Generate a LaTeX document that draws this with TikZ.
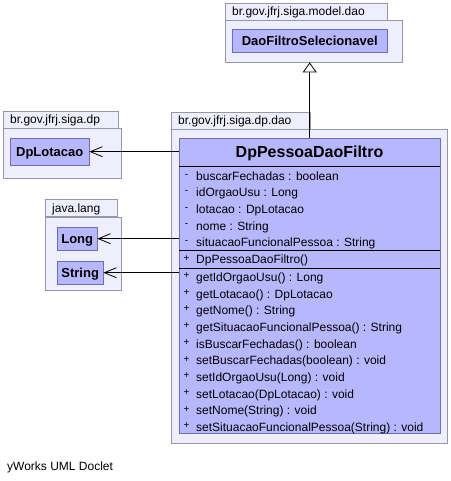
\documentclass[tikz,border=0pt]{standalone}
\usepackage{fontspec}
\setmainfont{Liberation Sans}
\usetikzlibrary{arrows.meta}

\definecolor{pkgfill}{RGB}{238,238,252}
\definecolor{pkgline}{RGB}{150,150,165}
\definecolor{clsfill}{RGB}{183,183,253}
\definecolor{clsline}{RGB}{110,110,180}

\begin{document}
\begin{tikzpicture}[x=1pt,y=-1pt,
	pkgbody/.style={draw=pkgline, fill=pkgfill, anchor=north west, inner sep=0pt},
	pkgtab/.style={draw=pkgline, fill=pkgfill, anchor=north west, inner xsep=7pt, inner ysep=0pt,
		minimum height=17pt, align=left, text height=8.6pt, text depth=0pt, font=\fontsize{12}{14}\selectfont},
	smallclass/.style={draw=clsline, fill=clsfill, anchor=north west, inner sep=0pt,
		text height=9.3pt, text depth=0pt, font=\fontsize{13}{15}\selectfont\bfseries},
	bigclass/.style={draw=clsline, fill=clsfill, anchor=north west, inner sep=0pt},
	member/.style={anchor=west, inner sep=0pt, text height=8.6pt, text depth=0pt, font=\fontsize{12}{14}\selectfont},
	vis/.style={anchor=base, inner sep=0pt, font=\fontsize{10}{11}\selectfont},
	sepline/.style={draw=black, line width=0.8pt},
	inherit/.style={-{Triangle[length=10pt,width=14pt,fill=white]}, line width=0.8pt},
	assoc/.style={-{Straight Barb[length=12pt,width=10pt]}, line width=0.8pt}
	]
	\useasboundingbox (0,0) rectangle (450,481);
	
	\node[pkgbody, minimum width=177pt, minimum height=42pt] (daobody) at (225,20) {};
	\node[pkgtab, text width=148pt] (daotab) at (225,3) {br.gov.jfrj.siga.model.dao};
	\node[smallclass, minimum width=155pt, minimum height=23pt] (daofiltro) at (232,29) {DaoFiltroSelecionavel};
	
	\node[pkgbody, minimum width=118pt, minimum height=50pt] (dpbody) at (3,128) {};
	\node[pkgtab, text width=101pt] (dptab) at (3,111) {br.gov.jfrj.siga.dp};
	\node[smallclass, minimum width=79pt, minimum height=27pt] (dplot) at (10,138) {DpLotacao};
	
	\node[pkgbody, minimum width=76pt, minimum height=73pt] (langbody) at (45,217) {};
	\node[pkgtab, text width=58pt] (langtab) at (45,199) {java.lang};
	\node[smallclass, minimum width=40pt, minimum height=23pt] (long) at (57,227) {Long};
	\node[smallclass, minimum width=46pt, minimum height=23pt] (string) at (57,261) {String};
	
	\node[pkgbody, minimum width=276pt, minimum height=314pt] (dpdaobody) at (171,129) {};
	\node[pkgtab, text width=125pt] (dpdaotab) at (171,112) {br.gov.jfrj.siga.dp.dao};
	\node[bigclass, minimum width=261pt, minimum height=295pt] (dpfiltro) at (179,138) {};
	\node[inner sep=0pt, text height=11.5pt, text depth=0pt, font=\fontsize{16}{18}\selectfont\bfseries] (dpname) at (309.5,152) {DpPessoaDaoFiltro};
	\draw[sepline] (179,166) -- (440,166);
	\draw[sepline] (179,250.5) -- (440,250.5);
	\draw[sepline] (179,268) -- (440,268);
	
	\foreach \m [count=\i from 0] in {buscarFechadas : boolean, idOrgaoUsu : Long, lotacao : DpLotacao, nome : String, situacaoFuncionalPessoa : String}{
		\node[vis] (attrvis\i) at (186.5,{177+16.6*\i}) {-};
		\node[member] (attr\i) at (196,{176+16.6*\i}) {\m};
	}
	\node[vis] (ctorvis) at (186.5,261) {+};
	\node[member] (ctor) at (196,259.5) {DpPessoaDaoFiltro()};
	\foreach \m [count=\i from 0] in {getIdOrgaoUsu() : Long, getLotacao() : DpLotacao, getNome() : String, getSituacaoFuncionalPessoa() : String, isBuscarFechadas() : boolean, setBuscarFechadas(boolean) : void, setIdOrgaoUsu(Long) : void, setLotacao(DpLotacao) : void, setNome(String) : void, setSituacaoFuncionalPessoa(String) : void}{
		\node[vis] (opvis\i) at (186.5,{278.5+16.7*\i}) {+};
		\node[member] (op\i) at (196,{277+16.7*\i}) {\m};
	}
	
	\draw[inherit] (dpfiltro.north) -- (dpfiltro.north |- daobody.south);
	\draw[assoc] (dpfiltro.west |- dplot.east) -- (dplot.east);
	\draw[assoc] (dpfiltro.west |- long.east) -- (long.east);
	\draw[assoc] (dpfiltro.west |- string.east) -- (string.east);
	
	\node[anchor=west, inner sep=0pt, font=\fontsize{12}{14}\selectfont] (doclet) at (7,467) {yWorks UML Doclet};
\end{tikzpicture}
\end{document}
